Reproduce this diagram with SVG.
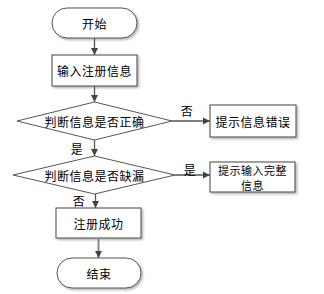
<svg xmlns="http://www.w3.org/2000/svg" width="324" height="294" viewBox="0 0 324 294">
<defs>
<filter id="sh" x="-10%" y="-10%" width="130%" height="140%">
<feDropShadow dx="1.5" dy="1.5" stdDeviation="0.8" flood-color="#999" flood-opacity="0.8"/>
</filter>
<marker id="ah" markerWidth="8" markerHeight="8" refX="7" refY="4" orient="auto" markerUnits="userSpaceOnUse">
<path d="M0,0.5 L7,4 L0,7.5 Z" fill="#444"/>
</marker>
</defs>
<style>
.box{fill:#fff;stroke:#444;stroke-width:1;filter:url(#sh)}
.term{fill:#fff;stroke:#555;stroke-width:1;filter:url(#sh)}
.dia{fill:#fff;stroke:#555;stroke-width:1}
.t{font-family:"Noto Sans CJK SC","Liberation Sans",sans-serif;font-size:12px;fill:#000;text-anchor:middle;dominant-baseline:central;letter-spacing:0.5px}
.s{font-size:11px}
.c{stroke:#555;stroke-width:1.3;fill:none;marker-end:url(#ah)}
</style>
<rect width="324" height="294" fill="#fff"/>
<g id="start"><rect class="term" x="52" y="8" width="85" height="30" rx="15"/><text class="t" x="94.5" y="23">开始</text></g>
<g id="input"><rect class="box" x="52" y="55" width="85" height="31"/><text class="t" x="94.5" y="70.5">输入注册信息</text></g>
<g id="check1"><polygon class="dia" points="94.5,102 172,121 94.5,140 17,121"/><text class="t" x="94.5" y="121">判断信息是否正确</text></g>
<g id="err"><rect class="box" x="210" y="105" width="86" height="32"/><text class="t" x="253" y="121">提示信息错误</text></g>
<g id="check2"><polygon class="dia" points="94.5,156 175,175 94.5,194 13,175"/><text class="t" x="94.5" y="175">判断信息是否缺漏</text></g>
<g id="complete"><rect class="box" x="210" y="162" width="85" height="30"/><text class="t s" x="252.5" y="169.5">提示输入完整</text><text class="t s" x="252.5" y="184.5">信息</text></g>
<g id="ok"><rect class="box" x="56" y="208" width="85" height="30"/><text class="t" x="98.5" y="223">注册成功</text></g>
<g id="end"><rect class="term" x="57" y="258" width="84" height="30" rx="15"/><text class="t" x="99" y="273">结束</text></g>
<g id="connectors">
<line class="c" x1="94.5" y1="38" x2="94.5" y2="55"/>
<line class="c" x1="94.5" y1="86" x2="94.5" y2="102"/>
<line class="c" x1="172" y1="121" x2="210" y2="121"/>
<line class="c" x1="94.5" y1="140" x2="94.5" y2="156"/>
<line class="c" x1="175" y1="175" x2="210" y2="175"/>
<line class="c" x1="95.5" y1="194" x2="95.5" y2="208"/>
<line class="c" x1="98.5" y1="238" x2="98.5" y2="258" style="stroke:#888;stroke-width:2"/>
<text class="t" x="187" y="110">否</text>
<text class="t" x="77" y="148">是</text>
<text class="t" x="190" y="169">是</text>
<text class="t" x="79" y="200">否</text>
</g>
</svg>
